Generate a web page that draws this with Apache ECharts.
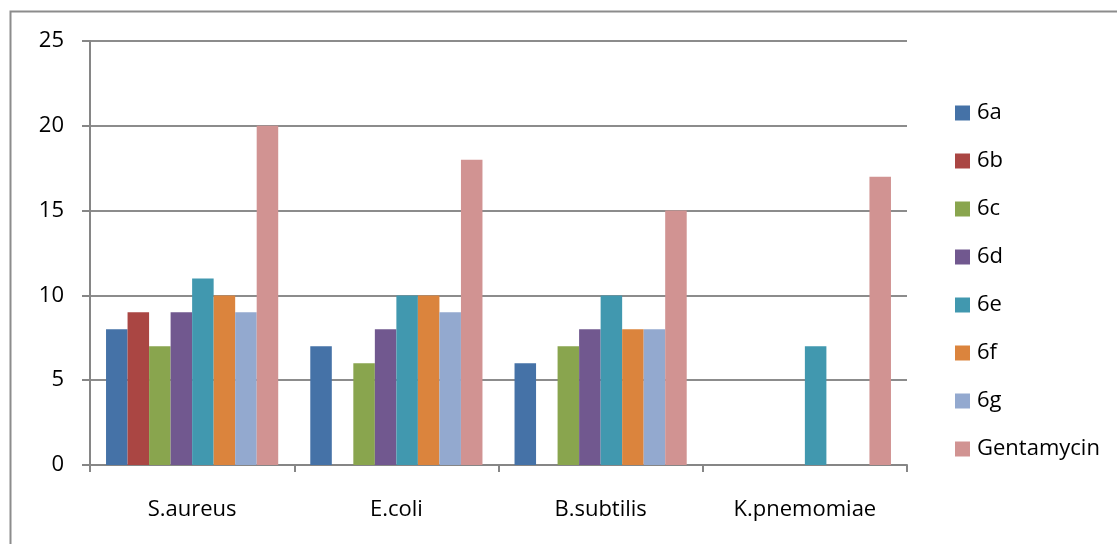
<!DOCTYPE html>
<html>
<head>
<meta charset="utf-8">
<script src="https://cdn.jsdelivr.net/npm/echarts@6/dist/echarts.min.js"></script>
<style>
html,body{margin:0;padding:0;background:#fff;}
#chart{width:1117px;height:544px;}
</style>
</head>
<body>
<div id="chart"></div>
<script>
const categories = ['S.aureus', 'E.coli', 'B.subtilis', 'K.pnemomiae'];
const seriesNames = ['6a', '6b', '6c', '6d', '6e', '6f', '6g', 'Gentamycin'];
const s6a = [8, 7, 6, null];
const s6b = [9, null, null, null];
const s6c = [7, 6, 7, null];
const s6d = [9, 8, 8, null];
const s6e = [11, 10, 10, 7];
const s6f = [10, 10, 8, null];
const s6g = [9, 9, 8, null];
const sGenta = [20, 18, 15, 17];
const yTicks = [0, 5, 10, 15, 20, 25];

const colors = ['#4572A7', '#AA4643', '#89A54E', '#71588F', '#4198AF', '#DB843D', '#93A9CF', '#D19392'];
const allData = [s6a, s6b, s6c, s6d, s6e, s6f, s6g, sGenta];
const font = 'Open Sans';

const chart = echarts.init(document.getElementById('chart'), null, {renderer: 'canvas'});
chart.setOption({
  animation: false,
  color: colors,
  textStyle: {fontFamily: font},
  graphic: [{
    type: 'rect',
    shape: {x: 10.5, y: 11.5, width: 1130, height: 560},
    style: {fill: 'none', stroke: '#8c8c8c', lineWidth: 2},
    silent: true
  }],
  grid: {left: 90, right: 210, top: 41, bottom: 79},
  legend: {
    orient: 'vertical',
    left: 950,
    top: 97,
    itemWidth: 15,
    itemHeight: 15,
    itemGap: 26,
    icon: 'rect',
    data: seriesNames,
    textStyle: {fontFamily: font, fontSize: 22, color: '#000', lineHeight: 22, padding: [0, 0, 0, 2]}
  },
  xAxis: {
    type: 'category',
    data: categories,
    axisLine: {lineStyle: {color: '#868686', width: 2}},
    axisTick: {show: true, length: 7, lineStyle: {color: '#868686', width: 2}},
    axisLabel: {fontFamily: font, fontSize: 22, color: '#000', margin: 34}
  },
  yAxis: {
    type: 'value',
    min: yTicks[0],
    max: yTicks[yTicks.length - 1],
    interval: 5,
    axisLine: {show: true, lineStyle: {color: '#868686', width: 2}},
    axisTick: {show: true, length: 8, lineStyle: {color: '#868686', width: 2}},
    splitLine: {lineStyle: {color: '#8c8c8c', width: 2}},
    axisLabel: {fontFamily: font, fontSize: 22, color: '#000', margin: 26}
  },
  series: seriesNames.map((name, i) => ({
    name: name,
    type: 'bar',
    data: allData[i],
    barGap: '0%',
    barCategoryGap: '15.7%',
    itemStyle: {color: colors[i]}
  }))
});
</script>
</body>
</html>
